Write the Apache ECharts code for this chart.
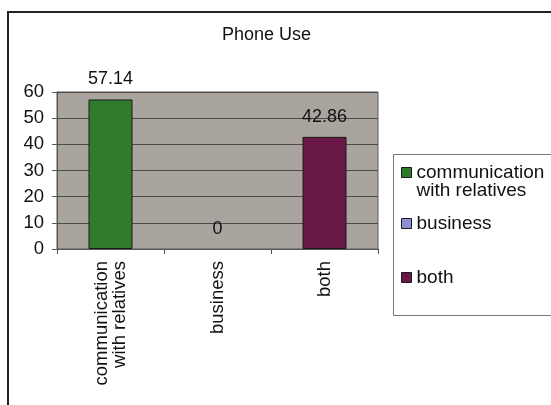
<!DOCTYPE html>
<html>
<head>
<meta charset="utf-8">
<title>Phone Use</title>
<script src="https://cdn.jsdelivr.net/npm/echarts@6/dist/echarts.min.js"></script>
<style>
  html, body { margin: 0; padding: 0; background: #ffffff; }
  #chart { width: 551px; height: 405px; }
</style>
</head>
<body>
<div id="chart"></div>
<script>
// Phone use survey: share of respondents (%) by purpose
const categories = ['communication\nwith relatives', 'business', 'both'];
const seriesNames = ['communication\nwith relatives', 'business', 'both'];
const values = [57.14, 0, 42.86];
const colors = ['#2f7a2b', '#8f8fd6', '#6a1848'];
const yTicks = { min: 0, max: 60, interval: 10 };

const FONT = 'Liberation Sans, Arial, sans-serif';

// one series per category so each gets its own legend entry; stacked so they share a slot
const series = seriesNames.map((name, i) => ({
  name: name,
  type: 'bar',
  stack: 'all',
  barWidth: 44,
  data: categories.map((c, j) => (j === i ? values[i] : '-')),
  itemStyle: {
    color: colors[i],
    borderColor: '#1a1a1a',
    borderWidth: values[i] === 0 ? 0 : 1
  },
  label: {
    show: true,
    position: 'top',
    distance: 11,
    color: '#111',
    fontFamily: FONT,
    fontSize: 18
  }
}));

const legendBase = {
  orient: 'vertical',
  left: 401,
  padding: 0,
  icon: 'rect',
  itemWidth: 10,
  itemHeight: 10,
  selectedMode: false,
  itemStyle: { borderColor: '#1a1a1a', borderWidth: 1 },
  textStyle: { fontFamily: FONT, fontSize: 19, color: '#111', lineHeight: 18 }
};

const chart = echarts.init(document.getElementById('chart'), null, { renderer: 'canvas' });
chart.setOption({
  backgroundColor: '#ffffff',
  animation: false,
  title: {
    text: 'Phone Use',
    left: 222,
    top: 26,
    padding: 0,
    textStyle: { fontFamily: FONT, fontSize: 18, fontWeight: 'normal', color: '#111' }
  },
  legend: [
    // leading blank line keeps the swatch level with the first line of the two-line name
    Object.assign({}, legendBase, {
      top: 145,
      data: [seriesNames[0]],
      formatter: name => '\n' + name
    }),
    Object.assign({}, legendBase, { top: 214, data: [seriesNames[1]] }),
    Object.assign({}, legendBase, { top: 268, data: [seriesNames[2]] })
  ],
  grid: {
    left: 57,
    right: 173,
    top: 92,
    bottom: 156,
    show: true,
    backgroundColor: '#a9a59e',
    borderColor: '#5a5a5a',
    borderWidth: 1
  },
  xAxis: {
    type: 'category',
    data: categories,
    boundaryGap: true,
    axisLine: { lineStyle: { color: '#555', width: 1 } },
    axisTick: { show: true, length: 5, lineStyle: { color: '#555' } },
    axisLabel: {
      rotate: 90,
      margin: 12,
      interval: 0,
      fontFamily: FONT,
      fontSize: 18.5,
      lineHeight: 18,
      color: '#111'
    }
  },
  yAxis: {
    type: 'value',
    min: yTicks.min,
    max: yTicks.max,
    interval: yTicks.interval,
    axisLine: { show: true, lineStyle: { color: '#555', width: 1 } },
    axisTick: { show: true, length: 5, lineStyle: { color: '#555' } },
    axisLabel: { margin: 13, fontFamily: FONT, fontSize: 18.5, color: '#111' },
    splitLine: { show: true, lineStyle: { color: '#4a4a4a', width: 1 } }
  },
  graphic: [
    {
      type: 'rect',
      silent: true,
      z: -10,
      shape: { x: 8, y: 12, width: 600, height: 500 },
      style: { fill: 'none', stroke: '#222', lineWidth: 2 }
    },
    {
      type: 'rect',
      silent: true,
      z: -10,
      shape: { x: 393.5, y: 154.5, width: 200, height: 161 },
      style: { fill: 'none', stroke: '#777', lineWidth: 1 }
    }
  ],
  series: series
});
</script>
</body>
</html>
